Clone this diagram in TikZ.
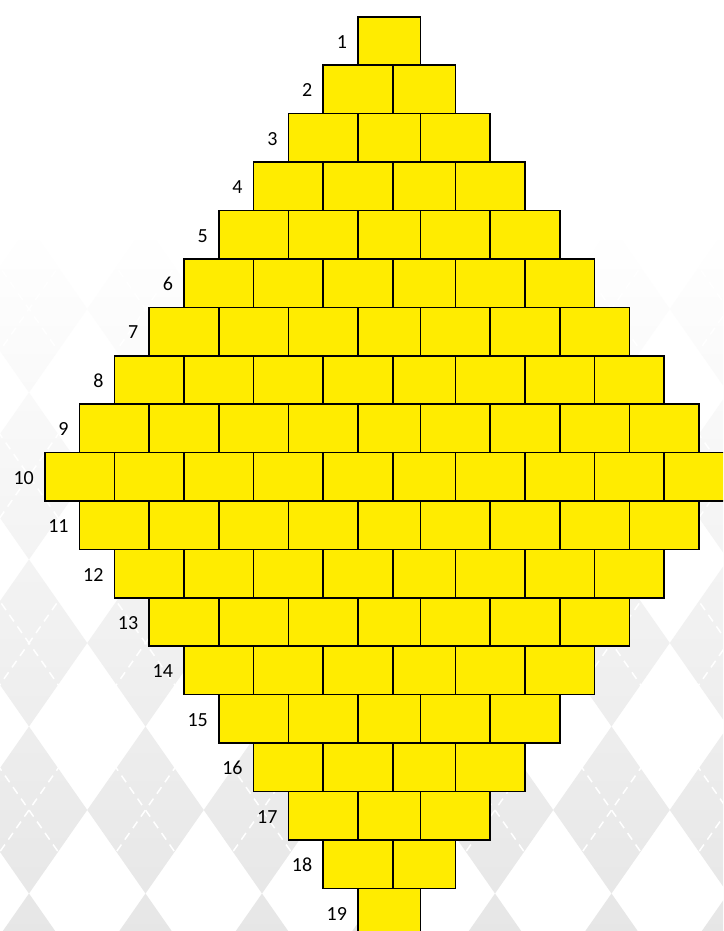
\documentclass[tikz,border=0pt]{standalone}
\usepackage{fontspec}
\setmainfont{Carlito}
\usepackage{xcolor}
\usepackage{tikz}
\usetikzlibrary{
    positioning,
    calc
}
\definecolor{brickyellow}{RGB}{255,236,0}

\begin{document}
\begin{tikzpicture}[
    x=1pt, y=-1pt,
    brick/.style={
        rectangle,
        draw=black,
        line width=1.6pt,
        fill=brickyellow,
        inner sep=0pt,
        anchor=north west,
        minimum height=48.42pt
    },
    rowlabel/.style={
        inner sep=0pt,
        font=\fontsize{20}{24}\selectfont
    },
    stitch/.style={white, line width=1.5pt, dash pattern=on 8pt off 6pt}
]

\useasboundingbox (0,0) rectangle (723,931);
\clip (0,0) rectangle (723,931);

% Fondo: rombos grises
\fill[white] (0,0) rectangle (723,931);
\shade[top color=white, middle color=black!3, bottom color=black!11.5]
    \foreach \i in {-1,...,7}{
        \foreach \j in {0,...,4}{
            (29+116.5*\i, 225.5+167*\j) -- ++(58.25,83.5) -- ++(-58.25,83.5)
            -- ++(-58.25,-83.5) -- cycle
        }
    };
\foreach \i in {-8,...,14}{
    \draw[stitch] (29+116.5*\i-524.25, 643-751.5) -- (29+116.5*\i+524.25, 643+751.5);
    \draw[stitch] (29+116.5*\i+524.25, 643-751.5) -- (29+116.5*\i-524.25, 643+751.5);
}

% Filas de ladrillos
\foreach \r in {1,...,19}{
    \pgfmathtruncatemacro{\n}{10-abs(\r-10)}
    \pgfmathtruncatemacro{\s}{10-\n}
    \pgfmathsetmacro{\ytop}{16+48.42*(\r-1)}
    \foreach \j in {1,...,\n}{
        \pgfmathtruncatemacro{\ka}{\s+2*\j-2}
        \pgfmathtruncatemacro{\kb}{\s+2*\j}
        \pgfmathsetmacro{\xl}{44+34.8*\ka-7*(\ka>10)}
        \pgfmathsetmacro{\xr}{44+34.8*\kb-7*(\kb>10)}
        \pgfmathsetmacro{\w}{\xr-\xl}
        \node[brick, minimum width=\w pt] (b\r-\j) at (\xl,\ytop) {};
    }
    \node[rowlabel, left=10pt of b\r-1, yshift=-1pt] (lab\r) {\r};
}

\end{tikzpicture}
\end{document}
